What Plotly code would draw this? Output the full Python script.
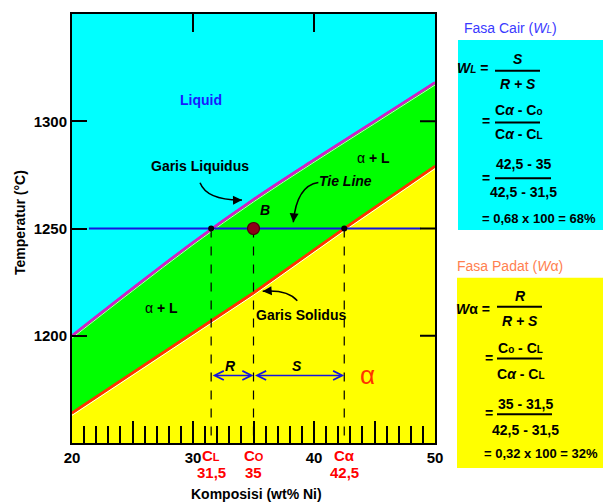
import plotly.graph_objects as go

# ---------------- data ----------------
comp_liquidus = [20, 25, 30, 35, 40, 45, 50]
temp_liquidus = [1200, 1222, 1243.5, 1263.5, 1282, 1300, 1318]
comp_solidus = [20, 31.5, 35, 42.5, 50]
temp_solidus = [1164, 1207, 1220, 1250, 1279]
C_L, C_0, C_alpha = 31.5, 35, 42.5
T_tie = 1250
tie_comp = [21.4, 48.8]
x_tickvals = [20, 25, 30, 35, 40, 45, 50]
x_ticktext = ["20", "", "30", "", "40", "", "50"]
y_tickvals = [1200, 1250, 1300]
comp_labels = ["C<span style='font-size:11px'>L</span>", "C<span style='font-size:11px'>O</span>", "Cα"]
comp_values_text = ["31,5", "35", "42,5"]

FONT = "Liberation Sans Narrow, Arial Narrow, Liberation Sans, Arial"

# plot-area geometry (pixels)
L, R, T, B = 72, 435, 12, 443
W, H = 603, 502
def px(x):
    return (x - L) / (R - L)
def py(y):
    return (B - y) / (B - T)

fig = go.Figure()

fig.add_trace(go.Scatter(x=comp_solidus, y=temp_solidus, mode="lines",
                         line=dict(color="#FF3300", width=2.5), fill="tozeroy",
                         fillcolor="#FFFF00", hoverinfo="skip"))
fig.add_trace(go.Scatter(x=comp_liquidus, y=temp_liquidus, mode="lines",
                         line=dict(color="#D020C8", width=2.5, shape="spline"),
                         fill="tonexty", fillcolor="#00FF00", hoverinfo="skip"))
# thin light edges next to the phase-boundary lines
fig.add_trace(go.Scatter(x=comp_liquidus, y=[v - 1.1 for v in temp_liquidus], mode="lines",
                         line=dict(color="#E8FFE8", width=0.8, shape="spline"), hoverinfo="skip"))
fig.add_trace(go.Scatter(x=comp_solidus, y=[v - 1.1 for v in temp_solidus], mode="lines",
                         line=dict(color="white", width=1), hoverinfo="skip"))
fig.add_trace(go.Scatter(x=comp_liquidus, y=temp_liquidus, mode="lines",
                         line=dict(color="#D020C8", width=2.5, shape="spline"), hoverinfo="skip"))
fig.add_trace(go.Scatter(x=comp_solidus, y=temp_solidus, mode="lines",
                         line=dict(color="#FF3300", width=2.5), hoverinfo="skip"))

for c in [C_L, C_0, C_alpha]:
    fig.add_trace(go.Scatter(x=[c, c], y=[T_tie, 1150], mode="lines",
                             line=dict(color="black", width=1.2, dash="dash"),
                             hoverinfo="skip"))
fig.add_trace(go.Scatter(x=tie_comp, y=[T_tie, T_tie], mode="lines",
                         line=dict(color="#1515E0", width=2), hoverinfo="skip"))
fig.add_trace(go.Scatter(x=[C_L, C_alpha], y=[T_tie, T_tie], mode="markers",
                         marker=dict(color="black", size=6), hoverinfo="skip"))
fig.add_trace(go.Scatter(x=[C_0], y=[T_tie], mode="markers",
                         marker=dict(color="#8E0018", size=12,
                                     line=dict(color="#4A0008", width=1.2)),
                         hoverinfo="skip"))

shapes = []
ann = []

for v in [30, 40]:
    shapes.append(dict(type="line", xref="x", yref="paper", x0=v, x1=v,
                       y0=1, y1=1 - 18 / (B - T), line=dict(color="black", width=2)))
for v in y_tickvals:
    shapes.append(dict(type="line", xref="paper", yref="y", x0=1 - 15 / (R - L), x1=1,
                       y0=v, y1=v, line=dict(color="black", width=2)))

def curved_arrow(start, ctrl, end):
    shapes.append(dict(type="path", xref="x", yref="y",
                       path=f"M {start[0]},{start[1]} Q {ctrl[0]},{ctrl[1]} {end[0]},{end[1]}",
                       line=dict(color="black", width=1.5)))
    ax = end[0] - 0.25 * (end[0] - ctrl[0])
    ay = end[1] - 0.25 * (end[1] - ctrl[1])
    ann.append(dict(x=end[0], y=end[1], ax=ax, ay=ay, xref="x", yref="y",
                    axref="x", ayref="y", text="", showarrow=True, arrowhead=2,
                    arrowsize=1.2, arrowwidth=1.5, arrowcolor="black"))

curved_arrow((30.58, 1271.3), (31.16, 1263.0), (34.05, 1263.3))
curved_arrow((40.36, 1271.4), (38.57, 1269.9), (38.29, 1252.9))
curved_arrow((38.62, 1216.3), (37.8, 1221.6), (35.76, 1220.7))

T_arrow = 1181.5
for a, b in [(C_L, C_0), (C_0, C_alpha)]:
    ann.append(dict(x=b, y=T_arrow, ax=a, ay=T_arrow, xref="x", yref="y",
                    axref="x", ayref="y", text="", showarrow=True,
                    arrowhead=5, startarrowhead=5, arrowside="end+start",
                    arrowsize=1.2, startarrowsize=1.2, arrowwidth=1.5,
                    arrowcolor="#1515E0"))

def t(x, y, text, size=12, color="black", xref="x", yref="y", **kw):
    d = dict(x=x, y=y, text=text, showarrow=False, xref=xref, yref=yref,
             xanchor="center", yanchor="middle",
             font=dict(family=FONT, size=size, color=color))
    d.update(kw)
    ann.append(d)

t(30.7, 1310, "<b>Liquid</b>", 14, "#1A1AFF")
t(30.6, 1279, "<b>Garis Liquidus</b>", 14)
t(42.6, 1272, "<b><i>Tie Line</i></b>", 14)
t(35.95, 1258.5, "<b><i>B</i></b>", 14)
t(44.9, 1283, "α <b>+ L</b>", 14)
t(27.4, 1213, "α <b>+ L</b>", 14)
t(38.9, 1209.7, "<b>Garis Solidus</b>", 14)
t(33.06, 1186, "<b><i>R</i></b>", 14)
t(38.6, 1186, "<b><i>S</i></b>", 14)
t(44.46, 1181.5, "α", 26, "#FF3300")

for c, lab, val in zip([C_L, C_0, C_alpha], comp_labels, comp_values_text):
    t(c, py(456), f"<b>{lab}</b>", 15, "#FF0000", yref="paper")
    t(c, py(473), f"<b>{val}</b>", 15, "#FF0000", yref="paper")

t(px(256), py(494), "<b>Komposisi (wt% Ni)</b>", 14, xref="paper", yref="paper")
t(px(20), py(222), "<b>Temperatur (°C)</b>", 14, xref="paper", yref="paper", textangle=-90)

# ---------------- right panel ----------------
shapes.append(dict(type="rect", xref="paper", yref="paper", x0=px(458), x1=px(603),
                   y0=py(229), y1=py(38), fillcolor="#00FFFF", line=dict(width=0), layer="below"))
shapes.append(dict(type="rect", xref="paper", yref="paper", x0=px(457), x1=px(603),
                   y0=py(468), y1=py(277), fillcolor="#FFFF00", line=dict(width=0), layer="below"))

def pt(x, y, text, size=14, color="black", **kw):
    t(px(x), py(y), text, size, color, xref="paper", yref="paper", **kw)

def frac_line(x0, x1, y):
    shapes.append(dict(type="line", xref="paper", yref="paper", x0=px(x0), x1=px(x1),
                       y0=py(y), y1=py(y), line=dict(color="black", width=2)))

sub = lambda s: f"<span style='font-size:10px'>{s}</span>"

pt(510, 26, f"Fasa Cair (<i>W{sub('L')}</i>)", 14, "#3A3AFF")
pt(490, 66, f"<b><i>W{sub('L')}</i> =</b>", 14, xanchor="right")
pt(518, 57, "<b><i>S</i></b>")
frac_line(495, 540, 69)
pt(518, 82, "<b><i>R + S</i></b>")
pt(486, 120, "<b>=</b>")
pt(518, 108, f"<b>C<i>α</i> - C{sub('o')}</b>")
frac_line(495, 540, 121)
pt(518, 133, f"<b>C<i>α</i> - C{sub('L')}</b>")
pt(486, 177, "<b>=</b>")
pt(523, 163, "<b>42,5 - 35</b>")
frac_line(495, 551, 177)
pt(523, 191, "<b>42,5 - 31,5</b>")
pt(539, 217, "<b>= 0,68 x 100 = 68%</b>", 13)

pt(510, 265, "Fasa Padat (<i>W</i>α)", 14, "#FF7F50")
pt(492, 308, "<b><i>W</i>α =</b>", 14, xanchor="right")
pt(520, 295, "<b><i>R</i></b>")
frac_line(497, 542, 306)
pt(520, 320, "<b><i>R + S</i></b>")
pt(489, 358, "<b>=</b>")
pt(520, 348, f"<b>C{sub('o')} - C{sub('L')}</b>")
frac_line(497, 542, 358)
pt(520, 374, f"<b>C<i>α</i> - C{sub('L')}</b>")
pt(489, 413, "<b>=</b>")
pt(525, 404, "<b>35 - 31,5</b>")
frac_line(497, 552, 414)
pt(525, 430, "<b>42,5 - 31,5</b>")
pt(541, 454, "<b>= 0,32 x 100 = 32%</b>", 13)

fig.update_layout(
    width=W, height=H, margin=dict(l=L, r=W - R, t=T, b=H - B, pad=0),
    paper_bgcolor="white", plot_bgcolor="#00FFFF", showlegend=False,
    shapes=shapes, annotations=ann,
    font=dict(family=FONT, size=13, color="black"),
    xaxis=dict(range=[20, 50], tickvals=x_tickvals, ticktext=x_ticktext,
               ticks="inside", ticklen=22, tickwidth=2, tickcolor="black",
               minor=dict(dtick=1, ticks="inside", ticklen=17, tickwidth=2,
                          tickcolor="black", showgrid=False),
               showgrid=False, zeroline=False, showline=True, linecolor="black",
               linewidth=2, mirror=True,
               tickfont=dict(family=FONT, size=15, color="black", weight="bold")),
    yaxis=dict(range=[1150, 1350], tickvals=y_tickvals, ticks="inside", ticklen=15,
               tickwidth=2, tickcolor="black", showgrid=False, zeroline=False,
               showline=True, linecolor="black", linewidth=2, mirror=True,
               tickfont=dict(family=FONT, size=15, color="black", weight="bold")),
)

fig.write_html("out.html", config={"displayModeBar": False},
               post_script="document.body.style.margin='0px';")
